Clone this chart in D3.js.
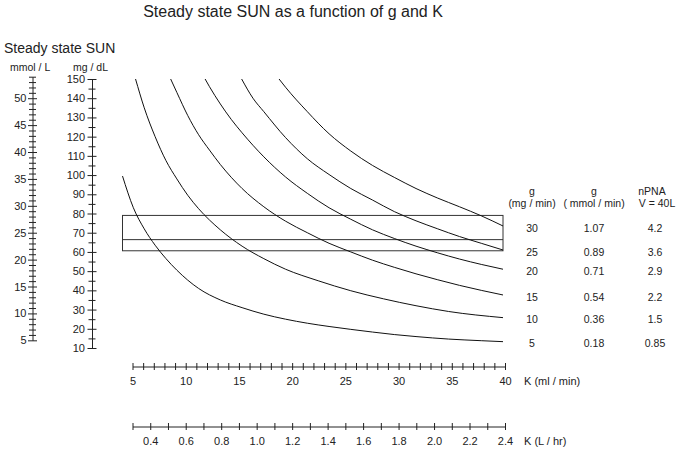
<!DOCTYPE html>
<html><head><meta charset="utf-8">
<script src="https://cdn.jsdelivr.net/npm/d3@7"></script>
<style>
body{margin:0;background:#fff;}
svg text{font-family:"Liberation Sans",Arial,Helvetica,sans-serif;fill:#222;}
</style></head><body>
<svg id="chart" width="680" height="449"></svg>
<script>
// ---- data ----
const gValues = [30, 25, 20, 15, 10, 5];                 // mg/min, one curve each
const gMmol   = ["1.07", "0.89", "0.71", "0.54", "0.36", "0.18"];
const nPNA    = ["4.2", "3.6", "2.9", "2.2", "1.5", "0.85"];

// K (ml/min) and steady-state SUN (mg/dL) for each curve
const k30   = [19.4, 20, 22, 24, 26, 28, 30, 32, 34, 36, 38, 40];
const sun30 = [150, 145.7, 133, 121.5, 112.5, 105, 98.8, 93, 88, 83.5, 78.8, 73.5];
const k25   = [15.96, 17, 18, 20, 22, 24, 26, 28, 30, 32, 34, 36, 38, 40];
const sun25 = [150, 140, 133, 119.5, 108.5, 100.3, 93, 87, 81, 76.2, 72, 68, 64.5, 61];
const k20   = [12.6, 13, 14, 15, 16, 18, 20, 22, 24, 26, 28, 30, 32, 34, 36, 38, 40];
const sun20 = [150, 146, 137, 129, 122, 109.5, 99, 90.5, 83, 77, 71.5, 67, 63, 59.5, 56.3, 53.5, 51];
const k15   = [9.43, 10, 11, 12, 13, 14, 16, 18, 20, 22, 24, 26, 28, 30, 32, 34, 36, 38, 40];
const sun15 = [150, 143, 131, 121, 113, 105.5, 93, 83.5, 76, 70, 64.5, 60, 55.7, 52, 48.6, 45.5, 42.6, 40, 37.6];
const k10   = [6.2, 7, 8, 9, 10, 11, 12, 14, 16, 18, 20, 23, 26, 29, 32, 35, 40];
const sun10 = [150, 135, 120, 107.5, 98, 89.5, 82.5, 71.5, 63, 56.5, 51, 45, 39.8, 35.6, 32, 29, 25.8];
const k5    = [5, 6, 7, 8, 9, 10, 12, 14, 16, 18, 20, 22, 24, 26, 28, 30, 32, 35, 38, 40];
const sun5  = [99.5, 83, 72, 63.5, 56.5, 50.5, 41, 35, 31, 27.6, 25, 22.9, 21.2, 19.7, 18.3, 17, 15.95, 14.65, 13.8, 13.3];

// target band (mg/dL)
const bandTop = 79, bandMid = 66.4, bandBottom = 60.6;

// axes ticks / labels
const mgTicks    = d3.range(10, 151, 5);
const mgLabels   = [10, 20, 30, 40, 50, 60, 70, 80, 90, 100, 110, 120, 130, 140, 150];
const mmolTicks  = d3.range(5, 55, 1);
const mmolLabels = [5, 10, 15, 20, 25, 30, 35, 40, 45, 50];
const kTicks     = d3.range(5, 41, 1);
const kLabels    = [5, 10, 15, 20, 25, 30, 35, 40];
const lhTicks    = d3.range(3, 25, 1).map(v => v / 10);
const lhLabels   = [0.4, 0.6, 0.8, 1.0, 1.2, 1.4, 1.6, 1.8, 2.0, 2.2, 2.4];
const MG_PER_MMOL = 2.8;

// ---- drawing ----
const svg = d3.select("#chart");
const ink = "#222";

const y = d3.scaleLinear().domain([10, 150]).range([348, 79]);
const yMmol = d3.scaleLinear().domain([5, 54]).range([y(5 * MG_PER_MMOL), y(54 * MG_PER_MMOL)]);
const xPlot = d3.scaleLinear().domain([5, 40]).range([122.5, 503]);
const xK = d3.scaleLinear().domain([5, 40]).range([132.5, 505]);
const xLh = d3.scaleLinear().domain([0.3, 2.4]).range([132.5, 505]);

// titles
svg.append("text").attr("x", 293).attr("y", 17).attr("text-anchor", "middle")
  .style("font-size", "16px").text("Steady state SUN as a function of g and K");
svg.append("text").attr("x", 4).attr("y", 52.5)
  .style("font-size", "14px").text("Steady state SUN");
svg.append("text").attr("x", 10).attr("y", 71).style("font-size", "10.5px").text("mmol / L");
svg.append("text").attr("x", 73).attr("y", 71).style("font-size", "10.5px").text("mg / dL");

function styleAxis(g) {
  g.attr("font-family", null).attr("font-size", null);
  g.selectAll("path.domain").attr("stroke", ink);
  g.selectAll(".tick line").attr("stroke", ink);
  g.selectAll(".tick text").style("font-size", "11px").attr("fill", ink);
}

// mmol/L axis
const gMmolAxis = svg.append("g").attr("transform", "translate(32.5,0)")
  .call(d3.axisLeft(yMmol).tickValues(mmolTicks)
    .tickFormat(d => mmolLabels.includes(d) ? d : "")
    .tickSizeInner(4.5).tickSizeOuter(0).tickPadding(1.5));
styleAxis(gMmolAxis);
gMmolAxis.selectAll(".tick line")
  .attr("x1", d => mmolLabels.includes(d) ? 4.5 : 3.5)
  .attr("x2", d => mmolLabels.includes(d) ? -4.5 : -3.5);

// mg/dL axis
const gMgAxis = svg.append("g").attr("transform", "translate(92,0)")
  .call(d3.axisLeft(y).tickValues(mgTicks)
    .tickFormat(d => mgLabels.includes(d) ? d : "")
    .tickSizeInner(4).tickSizeOuter(0).tickPadding(3));
styleAxis(gMgAxis);
gMgAxis.selectAll(".tick line")
  .attr("x1", d => mgLabels.includes(d) ? 4.5 : 3.5)
  .attr("x2", d => mgLabels.includes(d) ? -4.5 : -3.5);

// K (ml/min) axis
const gK = svg.append("g").attr("transform", "translate(0,366.5)")
  .call(d3.axisBottom(xK).tickValues(kTicks)
    .tickFormat(d => kLabels.includes(d) ? d : "")
    .tickSizeInner(3.5).tickSizeOuter(0).tickPadding(7.5));
styleAxis(gK);
gK.selectAll(".tick line").attr("y1", -3.5);
svg.append("text").attr("x", 524).attr("y", 385).style("font-size", "11px").text("K (ml / min)");

// K (L/hr) axis
const gLh = svg.append("g").attr("transform", "translate(0,426.5)")
  .call(d3.axisBottom(xLh).tickValues(lhTicks)
    .tickFormat(d => lhLabels.some(v => Math.abs(v - d) < 1e-9) ? d3.format(".1f")(d) : "")
    .tickSizeInner(3.5).tickSizeOuter(0).tickPadding(7.5));
styleAxis(gLh);
gLh.selectAll(".tick line").attr("y1", -3.5);
svg.append("text").attr("x", 524).attr("y", 445).style("font-size", "11px").text("K (L / hr)");

// band
svg.append("rect")
  .attr("x", xPlot(5)).attr("y", y(bandTop))
  .attr("width", xPlot(40) - xPlot(5)).attr("height", y(bandBottom) - y(bandTop))
  .attr("fill", "none").attr("stroke", "#333").attr("stroke-width", 1);
svg.append("line")
  .attr("x1", xPlot(5)).attr("x2", xPlot(40))
  .attr("y1", y(bandMid)).attr("y2", y(bandMid))
  .attr("stroke", "#333").attr("stroke-width", 1);

// curves
const curveK = [k30, k25, k20, k15, k10, k5];
const curveSun = [sun30, sun25, sun20, sun15, sun10, sun5];
const line = d3.line().x(d => xPlot(d[0])).y(d => y(d[1])).curve(d3.curveMonotoneX);
curveK.forEach((ks, i) => {
  const pts = ks.map((k, j) => [k, curveSun[i][j]]);
  svg.append("path").datum(pts).attr("d", line)
    .attr("fill", "none").attr("stroke", "#111").attr("stroke-width", 1);
});

// table on the right
const colX = [532, 594, 655];
svg.append("text").attr("x", colX[0]).attr("y", 195).attr("text-anchor", "middle").style("font-size", "10.5px").text("g");
svg.append("text").attr("x", colX[0]).attr("y", 207).attr("text-anchor", "middle").style("font-size", "10.5px").text("(mg / min)");
svg.append("text").attr("x", colX[1]).attr("y", 195).attr("text-anchor", "middle").style("font-size", "10.5px").text("g");
svg.append("text").attr("x", colX[1]).attr("y", 207).attr("text-anchor", "middle").style("font-size", "10.5px").text("( mmol / min)");
svg.append("text").attr("x", 652).attr("y", 194.5).attr("text-anchor", "middle").style("font-size", "10.5px").text("nPNA");
svg.append("text").attr("x", 657).attr("y", 207).attr("text-anchor", "middle").style("font-size", "10.5px").text("V = 40L");

gValues.forEach((g, i) => {
  const last = curveSun[i][curveSun[i].length - 1];
  const yy = y(last) + 2;
  [String(g), gMmol[i], nPNA[i]].forEach((t, c) => {
    svg.append("text").attr("x", colX[c]).attr("y", yy).attr("dy", "0.35em")
      .attr("text-anchor", "middle").style("font-size", "10.5px").text(t);
  });
});
</script>
</body></html>
